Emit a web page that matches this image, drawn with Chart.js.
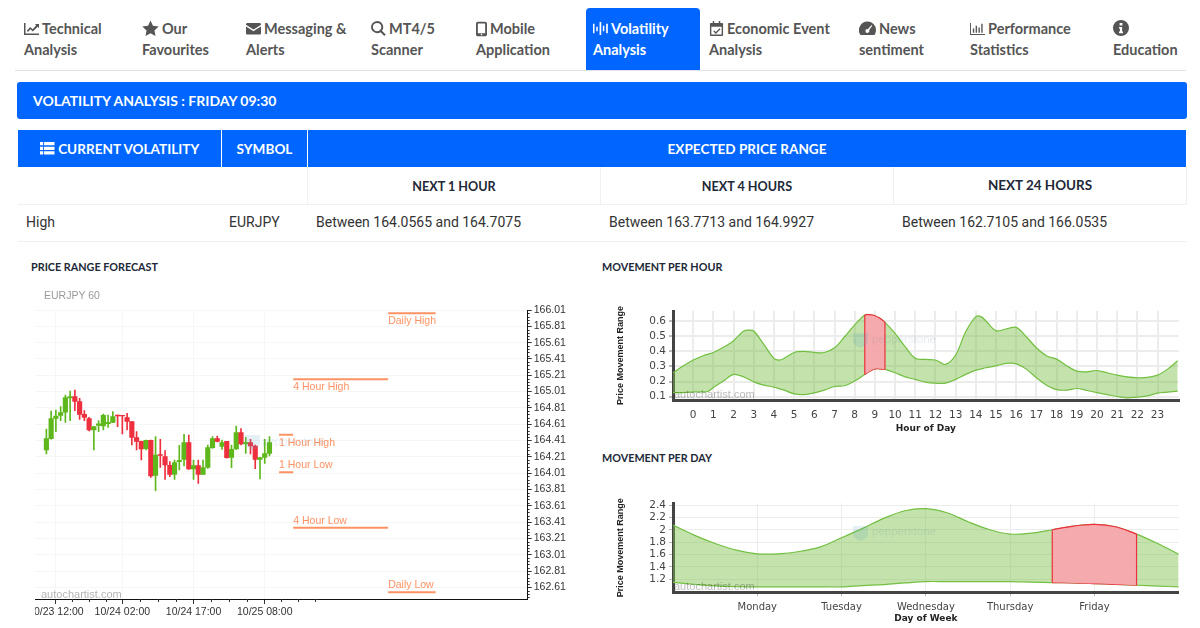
<!DOCTYPE html>
<html>
<head>
<meta charset="utf-8">
<script src="https://cdn.jsdelivr.net/npm/chart.js@4/dist/chart.umd.min.js"></script>
<style>
  html, body { margin: 0; padding: 0; background: #fff; }
  body { width: 1200px; height: 628px; overflow: hidden; position: relative; font-family: Roboto, sans-serif; color: #212529; }
  .abs { position: absolute; white-space: nowrap; }
  .nav { position: absolute; top: 18px; font: 700 14.5px/21px Lato, sans-serif; color: #555; white-space: nowrap; }
  .nav svg { width: 15px; height: 15px; vertical-align: -2px; margin-right: 3px; fill: #555; }
  .nav.active { color: #fff; }
  .nav.active svg { fill: #fff; }
  .tab { position: absolute; left: 586px; top: 8px; width: 114px; height: 63px; background: #0066ff; border-radius: 4px 4px 0 0; }
  .rule { position: absolute; background: #dee2e6; }
  .blue { position: absolute; background: #0066ff; }
  .th { position: absolute; color: #fff; font: 700 14px/37px Lato, sans-serif; text-align: center; top: 130px; height: 37px; transform: scaleX(.97); }
  .sub { position: absolute; top: 166.5px; height: 37px; font: 700 14px/37px Lato, sans-serif; text-align: center; color: #212837; transform: scaleX(.9); }
  .cell { position: absolute; top: 205px; height: 36px; font: 400 14px/35px Roboto, sans-serif; color: #333; white-space: nowrap; }
  .head { position: absolute; font: 700 10.8px/14px Lato, sans-serif; color: #212837; white-space: nowrap; }
  .mark { position: absolute; white-space: nowrap; font: 11px "Liberation Sans", sans-serif; pointer-events: none; }
  .shield { position: absolute; width: 15px; height: 16px; fill: rgba(90,160,190,.16); pointer-events: none; }
  canvas { position: absolute; display: block; }
</style>
</head>
<body>

<div class="tab"></div>
<div class="nav" style="left:24px"><svg viewBox="0 0 16 16"><path d="M0 2h1.600v11.400H16V15H0z"/><path d="M3 10.500l3.600-4 2.600 2.200L13 4.400l-1.400-1.200H16v4.200l-1.400-1.400-5.200 5.200-2.600-2.300-2.600 2.900z"/></svg>Technical<br>Analysis</div>
<div class="nav" style="left:142px"><svg viewBox="0 0 16 16" style="width:17px;height:17px;vertical-align:-3px"><path d="M8 .5l2.300 4.900 5.400.7-4 3.700 1 5.300L8 12.500l-4.700 2.600 1-5.300-4-3.700 5.400-.7z"/></svg>Our<br>Favourites</div>
<div class="nav" style="left:246px"><svg viewBox="0 0 16 16"><path d="M0 3.500C0 2.700.7 2 1.500 2h13c.8 0 1.500.7 1.500 1.500v.6L8 9 0 4.100zM0 5.800V13c0 .8.7 1.500 1.500 1.500h13c.8 0 1.500-.7 1.500-1.500V5.800L8 10.800z"/></svg>Messaging &amp;<br>Alerts</div>
<div class="nav" style="left:371px"><svg viewBox="0 0 16 16"><path d="M6.500 0a6.500 6.500 0 0 1 5.200 10.400l4 4-1.500 1.500-4-4A6.500 6.500 0 1 1 6.500 0zm0 2a4.500 4.500 0 1 0 0 9 4.500 4.500 0 0 0 0-9z"/></svg>MT4/5<br>Scanner</div>
<div class="nav" style="left:476px"><svg viewBox="0 0 12 16" style="width:11px;height:16px;vertical-align:-3px"><path d="M2 0h8c1 0 2 1 2 2v12c0 1-1 2-2 2H2c-1 0-2-1-2-2V2C0 1 1 0 2 0zm0 2v10.500h8V2zm4 11.200a.9.9 0 1 0 0 1.800.9.9 0 0 0 0-1.800z"/></svg>Mobile<br>Application</div>
<div class="nav active" style="left:593px"><svg viewBox="0 0 16 16"><path d="M0 3h1.600v10H0zM3.500 6h1.600v5H3.500zM7 1h1.800v14H7zM10.500 5h1.600v6h-1.600zM14 3h1.800v10H14z"/></svg>Volatility<br>Analysis</div>
<div class="nav" style="left:709px"><svg viewBox="0 0 16 16"><path d="M4 0h1.600v2h4.800V0H12v2h2c.6 0 1 .4 1 1v12c0 .6-.4 1-1 1H2c-.6 0-1-.4-1-1V3c0-.6.4-1 1-1h2zM2.500 6v8.500h11V6zm8.800 1.800l1 1-5 5L4.500 11l1-1 1.800 1.800z"/></svg>Economic Event<br>Analysis</div>
<div class="nav" style="left:859px"><svg viewBox="0 0 16 16" style="width:17px;height:17px;vertical-align:-3px"><path d="M8 1.500a8 8 0 0 1 8 8c0 1.700-.5 3.300-1.400 4.600H1.400A8 8 0 0 1 8 1.500zm3.800 3.200L8.300 8.600a1.800 1.800 0 1 0 1.200 1l2.900-4.300z"/></svg>News<br>sentiment</div>
<div class="nav" style="left:970px"><svg viewBox="0 0 16 16"><path d="M0 2h1v11.800h15V15H0zM3 8h1.500v4.500H3zM6 5h1.500v7.500H6zM9 7h1.500v5.500H9zM12 3h1.500v9.500H12z"/></svg>Performance<br>Statistics</div>
<div class="nav" style="left:1113px"><svg viewBox="0 0 16 16" style="width:16px;height:16px;vertical-align:-2px"><path d="M8 0a8 8 0 1 1 0 16A8 8 0 0 1 8 0zM6.600 3v2.400h2.800V3zm-.6 4v1.600h.9v3H6V13.200h4v-1.600h-.9V7z"/></svg><br>Education</div>
<div class="rule" style="left:15px;top:70px;width:1171px;height:1px"></div>

<div class="blue" style="left:17px;top:82px;width:1170px;height:37px;border-radius:3px"></div>
<div class="abs" style="left:33px;top:81.5px;font:700 14px/37px Lato,sans-serif;color:#fff">VOLATILITY ANALYSIS : FRIDAY 09:30</div>

<div class="blue" style="left:18px;top:130px;width:203px;height:37px"></div>
<div class="blue" style="left:222px;top:130px;width:85px;height:37px"></div>
<div class="blue" style="left:308px;top:130px;width:878px;height:37px"></div>
<div class="th" style="left:18px;width:203px"><svg viewBox="0 0 16 16" style="width:16px;height:15px;vertical-align:-2px;fill:#fff;margin-right:3px"><path d="M0 1h3.500v3.500H0zM4.500 1H16v3.500H4.500zM0 6h3.500v3.500H0zM4.500 6H16v3.500H4.500zM0 11h3.500v3.500H0zM4.500 11H16v3.500H4.500z"/></svg>CURRENT VOLATILITY</div>
<div class="th" style="left:222px;width:85px">SYMBOL</div>
<div class="th" style="left:308px;width:878px">EXPECTED PRICE RANGE</div>

<div class="sub" style="left:308px;width:292px">NEXT 1 HOUR</div>
<div class="sub" style="left:601px;width:292px">NEXT 4 HOURS</div>
<div class="sub" style="left:894px;width:292px;top:165.5px;transform:scaleX(.96)">NEXT 24 HOURS</div>
<div class="rule" style="left:18px;top:204px;width:1169px;height:1px;background:#eef0f2"></div>
<div class="rule" style="left:18px;top:241px;width:1169px;height:1px;background:#eef0f2"></div>
<div class="rule" style="left:307px;top:167px;width:1px;height:37px;background:#eef0f2"></div>
<div class="rule" style="left:600px;top:167px;width:1px;height:37px;background:#eef0f2"></div>
<div class="rule" style="left:893px;top:167px;width:1px;height:37px;background:#eef0f2"></div>
<div class="rule" style="left:1186px;top:167px;width:1px;height:37px;background:#eef0f2"></div>

<div class="cell" style="left:26px">High</div>
<div class="cell" style="left:229px">EURJPY</div>
<div class="cell" style="left:316px">Between 164.0565 and 164.7075</div>
<div class="cell" style="left:609px">Between 163.7713 and 164.9927</div>
<div class="cell" style="left:902px">Between 162.7105 and 166.0535</div>

<div class="head" style="left:31px;top:260px">PRICE RANGE FORECAST</div>
<div class="head" style="left:602px;top:260px">MOVEMENT PER HOUR</div>
<div class="head" style="left:602px;top:451px">MOVEMENT PER DAY</div>

<div style="position:absolute;left:35px;top:285px;width:560px;height:343px;overflow:hidden">
  <canvas id="candles" width="570" height="338" style="left:-30px;top:5px"></canvas>
</div>
<canvas id="hourChart" width="580" height="134" style="left:610px;top:300px"></canvas>
<canvas id="dayChart" width="580" height="134" style="left:610px;top:490px"></canvas>

<div class="mark" style="left:44px;top:289px;color:#999;font-size:10.5px">EURJPY 60</div>
<div class="mark" style="left:41px;top:588px;color:#b5b5b5">autochartist.com</div>
<svg class="shield" viewBox="0 0 15 16" style="left:245px;top:434px"><path d="M0 1h15v8c0 3-3 5-7.500 7C3 14 0 12 0 9z"/></svg>
<div class="mark" style="left:262px;top:435px;color:rgba(110,160,200,.16);font-size:11.500px">pepperstone</div>
<svg class="shield" viewBox="0 0 15 16" style="left:853px;top:332px"><path d="M0 1h15v8c0 3-3 5-7.500 7C3 14 0 12 0 9z"/></svg>
<div class="mark" style="left:872px;top:333px;color:rgba(70,120,140,.14);font-size:11.500px">pepperstone</div>
<div class="mark" style="left:674px;top:388px;color:rgba(0,0,0,.28)">autochartist.com</div>
<svg class="shield" viewBox="0 0 15 16" style="left:853px;top:525px"><path d="M0 1h15v8c0 3-3 5-7.500 7C3 14 0 12 0 9z"/></svg>
<div class="mark" style="left:872px;top:525px;color:rgba(70,120,140,.14);font-size:11.500px">pepperstone</div>
<div class="mark" style="left:674px;top:580px;color:rgba(0,0,0,.28)">autochartist.com</div>

<script>
// hourly candles, 10/23 10:00 onwards
const opens = [164.294,164.433,164.682,164.719,164.756,164.931,164.948,164.886,164.731,164.678,164.539,164.596,164.588,164.617,164.633,164.723,164.719,164.690,164.641,164.445,164.400,164.310,164.412,163.983,164.237,164.212,164.106,163.995,164.151,164.179,164.384,164.061,164.102,163.995,164.081,164.322,164.433,164.339,164.400,164.204,164.306,164.506,164.367,164.384,164.343,164.179,164.204,164.253];
const closes = [164.433,164.678,164.711,164.751,164.935,164.948,164.890,164.731,164.694,164.539,164.580,164.613,164.719,164.633,164.702,164.711,164.711,164.645,164.449,164.400,164.306,164.412,163.975,164.232,164.228,164.110,163.995,164.138,164.167,164.384,164.061,164.102,163.995,164.077,164.322,164.433,164.400,164.384,164.200,164.302,164.506,164.367,164.388,164.343,164.179,164.200,164.249,164.384];
const highs = [164.551,164.772,164.784,164.825,164.968,165.017,165.029,164.927,164.776,164.694,164.580,164.653,164.735,164.723,164.764,164.723,164.719,164.743,164.641,164.519,164.404,164.416,164.416,164.457,164.425,164.286,164.151,164.171,164.351,164.486,164.478,164.171,164.171,164.171,164.355,164.457,164.465,164.416,164.400,164.355,164.588,164.555,164.449,164.425,164.355,164.204,164.425,164.457];
const lows = [164.245,164.425,164.519,164.653,164.633,164.653,164.776,164.670,164.653,164.527,164.294,164.519,164.539,164.572,164.629,164.580,164.490,164.539,164.355,164.294,164.171,164.294,163.959,163.795,164.081,163.934,163.967,163.934,164.049,164.098,164.057,163.934,163.885,163.995,164.069,164.314,164.392,164.302,164.192,164.077,164.302,164.355,164.253,164.245,164.065,163.938,164.130,164.220];

const levelNames = ['Daily High', '4 Hour High', '1 Hour High', '1 Hour Low', '4 Hour Low', 'Daily Low'];
const levelValues = [165.97, 165.16, 164.48, 164.02, 163.34, 162.55];
const levelStarts = [72, 52, 49, 49, 52, 72];
const levelEnds = [82, 72, 52, 52, 72, 82];

const priceTicks = [166.01,165.81,165.61,165.41,165.21,165.01,164.81,164.61,164.41,164.21,164.01,163.81,163.61,163.41,163.21,163.01,162.81,162.61];
const timeTicks = [2, 16, 31, 46];
const timeLabels = ['10/23 12:00', '10/24 02:00', '10/24 17:00', '10/25 08:00'];
const timeMinorTicks = [5.5, 9, 12.5, 19.75, 23.5, 27.25, 34.75, 38.5, 42.25, 49.5, 53, 56.5];

const hours = [-1,-0.5,0,0.5,0.75,1,1.5,2,2.5,2.75,3,3.5,4,4.25,4.5,5,5.5,6,6.5,7,7.5,8,8.5,8.75,9,9.25,9.5,10,10.5,11,11.5,12,12.5,13,13.5,14,14.25,14.5,15,15.5,16,16.5,17,17.5,18,18.5,19,19.5,20,20.5,21,21.5,22,22.5,23,23.5,24];
const hourUpper = [.258,.302,.342,.370,.381,.392,.426,.470,.534,.540,.534,.445,.353,.342,.353,.392,.399,.392,.392,.423,.496,.574,.640,.642,.635,.618,.591,.518,.430,.353,.346,.342,.313,.375,.529,.629,.629,.600,.536,.547,.558,.496,.423,.370,.348,.304,.269,.264,.273,.258,.242,.231,.225,.227,.242,.282,.337];
const hourLower = [.127,.127,.132,.132,.136,.161,.203,.247,.231,.215,.198,.176,.163,.153,.143,.119,.114,.125,.143,.167,.172,.203,.247,.268,.284,.284,.280,.258,.231,.214,.196,.189,.189,.214,.247,.275,.283,.291,.304,.320,.317,.282,.225,.176,.147,.143,.154,.141,.127,.114,.101,.092,.097,.105,.123,.130,.136];
const hourTicksY = [0.1, 0.2, 0.3, 0.4, 0.5, 0.6];
const hourTicksX = [0,1,2,3,4,5,6,7,8,9,10,11,12,13,14,15,16,17,18,19,20,21,22,23];

const days = [-1,-0.75,-0.5,-0.25,0,0.25,0.5,0.75,1,1.25,1.5,1.75,2,2.25,2.5,2.75,3,3.25,3.5,3.75,4,4.25,4.5,4.75,5];
const dayUpper = [2.076,1.914,1.778,1.670,1.611,1.611,1.649,1.724,1.870,2.022,2.184,2.308,2.341,2.276,2.130,2.005,1.930,1.946,2.000,2.059,2.086,2.049,1.930,1.778,1.605];
const dayLower = [1.151,1.119,1.092,1.081,1.076,1.076,1.076,1.076,1.076,1.097,1.114,1.140,1.162,1.162,1.162,1.162,1.162,1.154,1.146,1.140,1.130,1.118,1.103,1.090,1.076];
const dayTicksY = [1.2, 1.4, 1.6, 1.8, 2, 2.2, 2.4];
const dayTicksX = [0, 1, 2, 3, 4];
const dayNames = ['Monday', 'Tuesday', 'Wednesday', 'Thursday', 'Friday'];

const GREEN = '#5eb81c';
const RED = '#ee2f3d';
const ORANGE = '#ff9263';

const candleColors = opens.map((o, i) => (closes[i] >= o ? GREEN : RED));

// short ticks plus the orange level captions
const candleExtras = {
  id: 'candleExtras',
  afterDraw(chart) {
    const ctx = chart.ctx, x = chart.scales.x, y = chart.scales.y;
    ctx.save();
    ctx.strokeStyle = '#333';
    ctx.lineWidth = 1;
    ctx.beginPath();
    timeMinorTicks.forEach(v => {
      const px = Math.round(x.getPixelForValue(v)) + 0.5;
      ctx.moveTo(px, y.bottom);
      ctx.lineTo(px, y.bottom + 3);
    });
    priceTicks.forEach(t => {
      for (let k = 1; k < 5; k++) {
        const py = y.getPixelForValue(t - k * 0.04);
        if (py > y.bottom) continue;
        ctx.moveTo(x.right, Math.round(py) + 0.5);
        ctx.lineTo(x.right + 2, Math.round(py) + 0.5);
      }
    });
    ctx.stroke();

    ctx.font = '10.5px "Liberation Sans", sans-serif';
    ctx.fillStyle = ORANGE;
    levelNames.forEach((name, i) => {
      const px = x.getPixelForValue(levelStarts[i]);
      const py = y.getPixelForValue(levelValues[i]);
      ctx.textBaseline = 'middle';
      ctx.fillText(name, px, name.endsWith('High') ? py + 8 : py - 7);
    });
    ctx.restore();
  }
};

new Chart(document.getElementById('candles'), {
  type: 'bar',
  plugins: [candleExtras],
  data: {
    datasets: [
      ...levelNames.map((name, i) => ({
        type: 'line',
        label: name,
        data: [{ x: levelStarts[i], y: levelValues[i] }, { x: levelEnds[i], y: levelValues[i] }],
        borderColor: ORANGE,
        borderWidth: 2,
        pointRadius: 0,
      })),
      {
        label: 'body',
        data: opens.map((o, i) => ({ x: i, y: [o, closes[i]] })),
        backgroundColor: candleColors,
        barThickness: 4.5,
        grouped: false,
      },
      {
        label: 'wick',
        data: lows.map((l, i) => ({ x: i, y: [l, highs[i]] })),
        backgroundColor: candleColors,
        barThickness: 1,
        grouped: false,
      },
    ],
  },
  options: {
    responsive: false,
    animation: false,
    layout: { padding: { left: 30, top: 20, right: 0, bottom: 0 } },
    plugins: { legend: { display: false }, tooltip: { enabled: false } },
    scales: {
      x: {
        type: 'linear',
        offset: false,
        min: -2.4,
        max: 101.4,
        afterBuildTicks: s => { s.ticks = timeTicks.map(v => ({ value: v })); },
        afterFit: s => { s.height = 29; },
        grid: { offset: false, color: '#f6f6f6', tickColor: '#333', tickLength: 5 },
        border: { color: '#111', width: 1 },
        ticks: {
          autoSkip: false,
          maxRotation: 0,
          padding: 2,
          color: '#333',
          font: { family: '"Liberation Sans"', size: 10.5 },
          callback: v => timeLabels[timeTicks.indexOf(v)],
        },
      },
      y: {
        position: 'right',
        min: 162.467,
        max: 166.01,
        afterBuildTicks: s => { s.ticks = priceTicks.map(v => ({ value: v })); },
        afterFit: s => { s.width = 47.3; },
        grid: { color: '#f6f6f6', tickColor: '#333', tickLength: 4 },
        border: { color: '#111', width: 1 },
        ticks: {
          autoSkip: false,
          padding: 2,
          color: '#333',
          font: { family: '"Liberation Sans"', size: 10.5 },
          callback: v => v.toFixed(2),
        },
      },
    },
  },
});

// green band with the current period marked red
function rangeChart(id, xs, upper, lower, redFrom, redTo, opt) {
  const pts = (arr, keep) => xs.map((x, i) => ({ x, y: arr[i] })).filter(keep);
  const inRed = p => p.x >= redFrom && p.x <= redTo;
  const all = () => true;
  const redUp = pts(upper, inRed), redLow = pts(lower, inRed);
  const side = k => [{ x: k, y: lower[xs.indexOf(k)] }, { x: k, y: upper[xs.indexOf(k)] }];
  const line = (data, color, fill, bg) => ({
    data, borderColor: color, borderWidth: opt.lineWidth, pointRadius: 0, tension: 0.35,
    fill: fill, backgroundColor: bg,
  });
  new Chart(document.getElementById(id), {
    type: 'line',
    data: {
      datasets: [
        line(side(redFrom), RED, false),
        line(side(redTo), RED, false),
        line(redUp, RED, '+1', 'rgba(247,168,174,0.96)'),
        line(redLow, RED, false),
        line(pts(upper, all), '#72c040', '+1', 'rgba(122,190,70,0.45)'),
        line(pts(lower, all), '#72c040', false),
      ],
    },
    options: {
      responsive: false,
      animation: false,
      layout: { padding: { top: opt.padTop, right: 11.3, left: 0, bottom: 0 } },
      plugins: { legend: { display: false }, tooltip: { enabled: false } },
      scales: {
        x: {
          type: 'linear',
          min: opt.xMin,
          max: opt.xMax,
          afterBuildTicks: s => { s.ticks = opt.xTicks.map(v => ({ value: v })); },
          afterFit: s => { s.height = opt.xHeight; },
          grid: { color: '#ececec', lineWidth: opt.gridWidthX, tickLength: opt.tickX, tickColor: '#bbb' },
          border: { color: '#444', width: 3 },
          title: { display: true, text: opt.xTitle, color: '#222', padding: { top: 0, bottom: 0 }, font: { family: '"DejaVu Sans"', size: 9, weight: 'bold' } },
          ticks: {
            autoSkip: false, maxRotation: 0, padding: opt.padX, color: '#444',
            font: { family: '"DejaVu Sans"', size: opt.fontX },
            callback: opt.xLabel,
          },
        },
        y: {
          min: opt.yMin,
          max: opt.yMax,
          afterBuildTicks: s => { s.ticks = opt.yTicks.map(v => ({ value: v })); },
          afterFit: s => { s.width = 63; },
          grid: { color: '#ececec', lineWidth: opt.gridWidthY, tickLength: 4, tickColor: '#bbb' },
          border: { color: '#444', width: 3 },
          title: { display: true, text: 'Price Movement Range', color: '#222', padding: { top: 5, bottom: 0 }, font: { family: '"Liberation Sans"', size: 9, weight: 'bold' } },
          ticks: {
            autoSkip: false, padding: 3, color: '#444',
            font: { family: '"DejaVu Sans"', size: 10.5 },
            callback: v => String(v),
          },
        },
      },
    },
  });
}

rangeChart('hourChart', hours, hourUpper, hourLower, 8.5, 9.5, {
  xMin: -1, xMax: 24.05, xTicks: hourTicksX, xLabel: v => String(v), xTitle: 'Hour of Day', fontX: 10.5,
  yMin: 0.078, yMax: 0.666, yTicks: hourTicksY, xHeight: 34, tickX: 2, padX: 7, gridWidthX: 2, gridWidthY: 2, lineWidth: 1.2, padTop: 11,
});
rangeChart('dayChart', days, dayUpper, dayLower, 3.5, 4.5, {
  xMin: -1, xMax: 5, xTicks: dayTicksX, xLabel: v => dayNames[v], xTitle: 'Day of Week', fontX: 10,
  yMin: 0.989, yMax: 2.428, yTicks: dayTicksY, xHeight: 31.7, tickX: 4, padX: 5, gridWidthX: 1, gridWidthY: 1, lineWidth: 1.2, padTop: 13.3,
});
</script>
</body>
</html>
